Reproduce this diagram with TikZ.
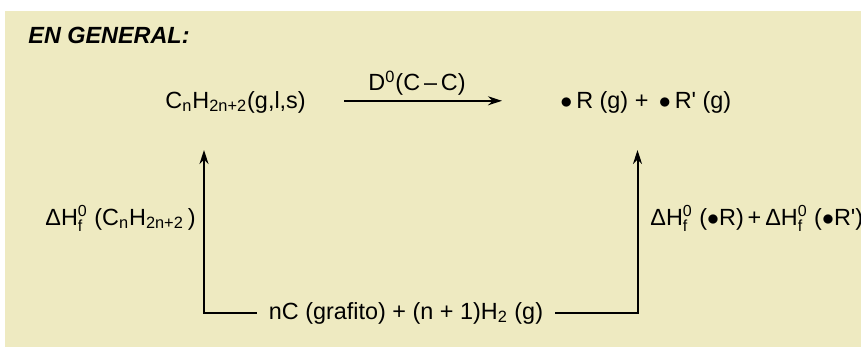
\documentclass[tikz,border=0pt]{standalone}
\usepackage{fontspec}
\setmainfont{Liberation Sans}
\usetikzlibrary{arrows.meta}
\definecolor{fondo}{RGB}{238,234,193}
\newcommand{\fcero}{\ensuremath{^{\mbox{\fontsize{8}{8}\selectfont 0}}_{\mbox{\fontsize{8}{8}\selectfont f}}}}
\newcommand{\rad}{\ensuremath{\bullet}}
\begin{document}
\begin{tikzpicture}[
    x=0.5pt, y=-0.5pt,
    texto/.style={font=\fontsize{11.7}{14}\selectfont, inner sep=0pt},
    flecha/.style={-{Stealth[length=7pt,width=4.5pt]}, line width=1pt}
]
\useasboundingbox (0,0) rectangle (861,349);
\clip (0,0) rectangle (861,349);
\fill[fondo] (5,11) rectangle (861,347);

\node[texto, anchor=base west] (titulo) at (28,43) {\textbf{\textit{EN GENERAL:}}};
\node[texto, anchor=base west] (alcano) at (165,108) {C\textsubscript{n}H\textsubscript{2n+2}(g,l,s)};
\node[texto, anchor=base west] (radicales) at (560,108) {\rad\,R (g) + \,\rad\,R\textquotesingle\ (g)};
\node[texto, anchor=base, inner xsep=6pt] (elementos) at (406,319) {nC (grafito) + (n + 1)H\textsubscript{2} (g)};
\node[texto, anchor=base west] (dhalcano) at (45,225) {ΔH\fcero\ (C\textsubscript{n}H\textsubscript{2n+2}\,)};
\node[texto, anchor=base west] (dhradicales) at (650,225) {ΔH\fcero\ (\rad R)\,+\,ΔH\fcero\ (\rad R\textquotesingle)};

\coordinate (izqtope) at (204,150);
\coordinate (dertope) at (637.5,150);

\draw[flecha] ([xshift=19pt,yshift=3.6pt]alcano.base east) -- node[texto, above=2pt, xshift=-3pt] (disoc) {D\textsuperscript{0}(C\,–\,C)} ([xshift=-29pt,yshift=3.6pt]radicales.base west);
\draw[flecha] (elementos.west) -| (izqtope);
\draw[flecha] (elementos.east) -| (dertope);
\end{tikzpicture}
\end{document}
